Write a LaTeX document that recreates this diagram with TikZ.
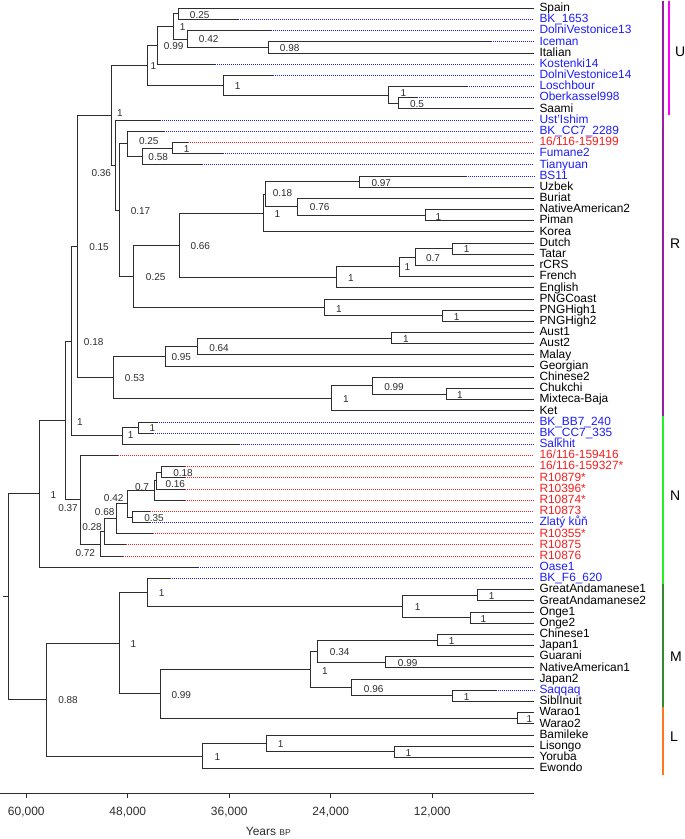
\documentclass[tikz,border=0pt]{standalone}
\usepackage{fontspec}
\setmainfont{Liberation Sans}
\definecolor{brcol}{RGB}{45,45,45}
\definecolor{bluetxt}{RGB}{30,30,250}
\definecolor{redtxt}{RGB}{250,30,30}
\definecolor{Ucol}{RGB}{255,0,255}
\definecolor{Rcol}{RGB}{150,30,160}
\definecolor{Ncol}{RGB}{40,240,40}
\definecolor{Mcol}{RGB}{50,140,50}
\definecolor{Lcol}{RGB}{255,120,30}
\newcommand{\inode}[6]{\coordinate (#1) at (#2,#3); \draw[branch] (#4) |- (#1); \node[suplab] (#1-lab) at (#5) {#6};}
\newcommand{\mleaf}[4]{\coordinate (#1) at (533.8,#2); \draw[branch] (#3) |- (#1); \node[leaflab] (#1-lab) at (#1) {#4};}
\newcommand{\aleaf}[6]{\coordinate (#1s) at (#4,#2); \coordinate (#1) at (533.8,#2); \draw[branch] (#3) |- (#1s); \draw[dotline,draw=#5] (#1s) -- (#1); \node[leaflab,text=#5] (#1-lab) at (#1) {#6};}
\begin{document}
\begin{tikzpicture}[x=1pt,y=-1pt,
  branch/.style={draw=brcol,line width=0.9pt},
  dotline/.style={line width=1pt,dash pattern=on 1pt off 1pt},
  leaflab/.style={anchor=mid west,inner sep=0pt,xshift=5.5pt,yshift=-0.6pt,font=\fontsize{11.9}{12}\selectfont},
  suplab/.style={inner sep=0pt,font=\fontsize{10}{10}\selectfont,text=brcol},
  axlab/.style={inner sep=0pt,font=\fontsize{12}{12}\selectfont,text=brcol},
  cladelab/.style={anchor=west,inner sep=0pt,font=\fontsize{14}{14}\selectfont},
  cladebar/.style={line width=2pt}]
\useasboundingbox (0,0) rectangle (685,839);
% root
\coordinate (root) at (8.3,596.7);
\coordinate (rootstub) at (3.3,596.7);
\draw[branch] (rootstub) -- (root);
% internal nodes
\inode{AA}{39}{493.85}{root}{53.3,495}{1}
\inode{Y}{65.7}{420.4}{AA}{80,421.7}{1}
\inode{W}{71.7}{341.05}{Y}{93.7,341.7}{0.18}
\inode{L}{77.3}{246.2}{W}{99,246.7}{0.15}
\inode{I}{111}{115.2}{L}{120,113.3}{1}
\inode{E}{147}{65.3}{I}{153.3,66}{1}
\inode{D}{157.3}{45.35}{E}{173.7,45.7}{0.99}
\inode{C}{173.3}{26.5}{D}{182.7,27.3}{1}
\inode{A}{178.3}{13.9}{C}{199.7,15}{0.25}
\inode{B}{187.3}{39.05}{C}{208.7,39.3}{0.42}
\inode{IcIt}{268.3}{47.4}{B}{289.7,48.3}{0.98}
\inode{F}{223.3}{85.2}{E}{237.7,86}{1}
\inode{G}{388.3}{94.95}{F}{403.3,93.3}{1}
\inode{H}{398.3}{103.3}{G}{417,104.3}{0.5}
\inode{J}{115.7}{165.1}{I}{101.3,173.3}{0.36}
\inode{K}{119}{210.1}{J}{140.5,210.7}{0.17}
\inode{M}{127.7}{143.9}{K}{148.8,141}{0.25}
\inode{N}{142.3}{156.4}{M}{158.2,156.7}{0.58}
\inode{O}{172.3}{148.05}{N}{186.7,149}{1}
\inode{P}{133.3}{276.3}{K}{155.7,277.3}{0.25}
\inode{Q}{179}{245.2}{P}{200.3,246}{0.66}
\inode{S}{263.3}{213.05}{Q}{277.3,214}{1}
\inode{S1}{265.7}{194.2}{S}{282.5,193.3}{0.18}
\inode{BSUz}{359.3}{181.6}{S1}{381.3,182.7}{0.97}
\inode{S2}{297.7}{206.75}{S1}{319.7,207.5}{0.76}
\inode{NAP}{425}{215.1}{S2}{438.3,216.7}{1}
\inode{Eu}{336.7}{277.3}{Q}{351,277.7}{1}
\inode{Eu1}{399.3}{266.8}{Eu}{407.3,267.3}{1}
\inode{Eu2}{415}{257.1}{Eu1}{433,258.3}{0.7}
\inode{Eu3}{452.7}{248.7}{Eu2}{466.7,249.3}{1}
\inode{PNG}{324}{307.4}{P}{339,309}{1}
\inode{PNGH}{442.7}{315.8}{PNG}{456.7,316.7}{1}
\inode{T}{113.3}{377.25}{L}{134.7,378.3}{0.53}
\inode{U1}{165.7}{356.3}{T}{181.3,357.3}{0.95}
\inode{U2}{197.7}{346.5}{U1}{219,347.7}{0.64}
\inode{Aus}{391.7}{338.1}{U2}{406,339}{1}
\inode{V}{331.7}{398.2}{T}{346,399}{1}
\inode{V1}{372.7}{385.6}{V}{394,386.7}{0.99}
\inode{CM}{446}{394}{V1}{460,395}{1}
\inode{X}{122.7}{435.9}{W}{130.7,435}{1}
\inode{BBCC}{138.3}{427.55}{X}{152.3,428.3}{1}
\inode{Z}{80.7}{499.7}{Y}{68,508.3}{0.37}
\inode{Z1}{100}{543.95}{Z}{85.3,553.3}{0.72}
\inode{Z2}{104}{531.8}{Z1}{92,526.7}{0.28}
\inode{Z3}{116.7}{518.75}{Z2}{104.7,512.3}{0.68}
\inode{Z4}{127.7}{503.7}{Z3}{113.7,498.3}{0.42}
\inode{Z5}{154}{490.4}{Z4}{142,486.7}{0.7}
\inode{Z6}{156.7}{480.65}{Z5}{175.3,484.3}{0.16}
\inode{Z7}{161}{472.3}{Z6}{183,473.3}{0.18}
\inode{Z8}{132.7}{517}{Z4}{154,518.3}{0.35}
\inode{BB}{46}{699.5}{root}{68,700}{0.88}
\inode{CC}{119}{643.1}{BB}{133.3,644}{1}
\inode{DD}{147.3}{592.45}{CC}{161.7,593.3}{1}
\inode{EE}{402.7}{606.4}{DD}{417.7,606.7}{1}
\inode{GA}{477.3}{595.25}{EE}{491.7,596}{1}
\inode{On}{470}{617.6}{EE}{483.3,619}{1}
\inode{FF}{160.3}{693.75}{CC}{181.3,695}{0.99}
\inode{GG}{310.7}{669.3}{FF}{325,670.7}{1}
\inode{HH}{317.7}{651.15}{GG}{339.7,652.3}{0.34}
\inode{CJ}{437.3}{640}{HH}{451.7,641}{1}
\inode{GN}{385.7}{662.3}{HH}{407.7,663.3}{0.99}
\inode{II}{351.7}{687.5}{GG}{373.7,689}{0.96}
\inode{SS}{452.7}{695.9}{II}{466.7,697.3}{1}
\inode{WW}{517.7}{718.2}{FF}{529.3,719}{1}
\inode{JJ}{202.7}{755.95}{BB}{217.3,756.7}{1}
\inode{KK}{266}{743.4}{JJ}{280.7,744.3}{1}
\inode{LY}{394}{751.8}{KK}{408.3,753.3}{1}
% leaves
\mleaf{l0}{8.3}{A}{Spain}
\aleaf{l1}{19.5}{A}{238.3}{bluetxt}{BK\_1653}
\aleaf{l2}{30.7}{B}{270.7}{bluetxt}{DolniVestonice13}
\aleaf{l3}{41.8}{IcIt}{490.7}{bluetxt}{Iceman}
\mleaf{l4}{53.0}{IcIt}{Italian}
\aleaf{l5}{64.2}{D}{215}{bluetxt}{Kostenki14}
\aleaf{l6}{75.4}{F}{272.7}{bluetxt}{DolniVestonice14}
\aleaf{l7}{86.6}{G}{466.7}{bluetxt}{Loschbour}
\aleaf{l8}{97.7}{H}{417}{bluetxt}{Oberkassel998}
\mleaf{l9}{108.9}{H}{Saami}
\aleaf{l10}{120.1}{J}{160}{bluetxt}{Ust’Ishim}
\aleaf{l11}{131.3}{M}{164.3}{bluetxt}{BK\_CC7\_2289}
\aleaf{l12}{142.5}{O}{188.3}{redtxt}{16/116-159199}
\aleaf{l13}{153.6}{O}{223.3}{bluetxt}{Fumane2}
\aleaf{l14}{164.8}{N}{202.3}{bluetxt}{Tianyuan}
\aleaf{l15}{176.0}{BSUz}{465.7}{bluetxt}{BS11}
\mleaf{l16}{187.2}{BSUz}{Uzbek}
\mleaf{l17}{198.4}{S2}{Buriat}
\mleaf{l18}{209.5}{NAP}{NativeAmerican2}
\mleaf{l19}{220.7}{NAP}{Piman}
\mleaf{l20}{231.9}{S}{Korea}
\mleaf{l21}{243.1}{Eu3}{Dutch}
\mleaf{l22}{254.3}{Eu3}{Tatar}
\mleaf{l23}{265.4}{Eu2}{rCRS}
\mleaf{l24}{276.6}{Eu1}{French}
\mleaf{l25}{287.8}{Eu}{English}
\mleaf{l26}{299.0}{PNG}{PNGCoast}
\mleaf{l27}{310.2}{PNGH}{PNGHigh1}
\mleaf{l28}{321.3}{PNGH}{PNGHigh2}
\mleaf{l29}{332.5}{Aus}{Aust1}
\mleaf{l30}{343.7}{Aus}{Aust2}
\mleaf{l31}{354.9}{U2}{Malay}
\mleaf{l32}{366.1}{U1}{Georgian}
\mleaf{l33}{377.2}{V1}{Chinese2}
\mleaf{l34}{388.4}{CM}{Chukchi}
\mleaf{l35}{399.6}{CM}{Mixteca-Baja}
\mleaf{l36}{410.8}{V}{Ket}
\aleaf{l37}{422.0}{BBCC}{156.7}{bluetxt}{BK\_BB7\_240}
\aleaf{l38}{433.1}{BBCC}{153.3}{bluetxt}{BK\_CC7\_335}
\aleaf{l39}{444.3}{X}{239.3}{bluetxt}{Salkhit}
\aleaf{l40}{455.5}{Z}{118.3}{redtxt}{16/116-159416}
\aleaf{l41}{466.7}{Z7}{185}{redtxt}{16/116-159327*}
\aleaf{l42}{477.9}{Z7}{185}{redtxt}{R10879*}
\aleaf{l43}{489.0}{Z6}{185}{redtxt}{R10396*}
\aleaf{l44}{500.2}{Z5}{185}{redtxt}{R10874*}
\aleaf{l45}{511.4}{Z8}{150}{redtxt}{R10873}
\aleaf{l46}{522.6}{Z8}{150}{bluetxt}{Zlatý kůň}
\aleaf{l47}{533.8}{Z3}{152.7}{redtxt}{R10355*}
\aleaf{l48}{544.9}{Z2}{126}{redtxt}{R10875}
\aleaf{l49}{556.1}{Z1}{123.3}{redtxt}{R10876}
\aleaf{l50}{567.3}{AA}{198.3}{bluetxt}{Oase1}
\aleaf{l51}{578.5}{DD}{170}{bluetxt}{BK\_F6\_620}
\mleaf{l52}{589.7}{GA}{GreatAndamanese1}
\mleaf{l53}{600.8}{GA}{GreatAndamanese2}
\mleaf{l54}{612.0}{On}{Onge1}
\mleaf{l55}{623.2}{On}{Onge2}
\mleaf{l56}{634.4}{CJ}{Chinese1}
\mleaf{l57}{645.6}{CJ}{Japan1}
\mleaf{l58}{656.7}{GN}{Guarani}
\mleaf{l59}{667.9}{GN}{NativeAmerican1}
\mleaf{l60}{679.1}{II}{Japan2}
\aleaf{l61}{690.3}{SS}{495.7}{bluetxt}{Saqqaq}
\mleaf{l62}{701.5}{SS}{SiblInuit}
\mleaf{l63}{712.6}{WW}{Warao1}
\mleaf{l64}{723.8}{WW}{Warao2}
\mleaf{l65}{735.0}{KK}{Bamileke}
\mleaf{l66}{746.2}{LY}{Lisongo}
\mleaf{l67}{757.4}{LY}{Yoruba}
\mleaf{l68}{768.5}{JJ}{Ewondo}
% axis
\coordinate (ax0) at (0,793);
\coordinate (ax1) at (533.8,793);
\draw[branch] (ax0) -- (ax1);
\coordinate (t1a) at (26.3,793); \coordinate (t1b) at (26.3,797.5);
\coordinate (t2a) at (127.8,793); \coordinate (t2b) at (127.8,797.5);
\coordinate (t3a) at (229.3,793); \coordinate (t3b) at (229.3,797.5);
\coordinate (t4a) at (330.8,793); \coordinate (t4b) at (330.8,797.5);
\coordinate (t5a) at (432.3,793); \coordinate (t5b) at (432.3,797.5);
\draw[branch] (t1a) -- (t1b); \draw[branch] (t2a) -- (t2b); \draw[branch] (t3a) -- (t3b);
\draw[branch] (t4a) -- (t4b); \draw[branch] (t5a) -- (t5b);
\node[axlab] (tl1) at (26.3,812) {60,000};
\node[axlab] (tl2) at (127.8,812) {48,000};
\node[axlab] (tl3) at (229.3,812) {36,000};
\node[axlab] (tl4) at (330.8,812) {24,000};
\node[axlab] (tl5) at (432.3,812) {12,000};
\node[axlab] (years) at (268.3,831) {Years {\fontsize{8.5}{8.5}\selectfont BP}};
% clade bars
\coordinate (ru) at (663.3,1); \coordinate (rl) at (663.3,416.4);
\coordinate (nl) at (663.3,584.1); \coordinate (ml) at (663.3,707.05);
\coordinate (ll) at (663.3,775);
\coordinate (uu) at (669.3,1); \coordinate (ul) at (669.3,114.5);
\draw[cladebar,Rcol] (ru) -- (rl);
\draw[cladebar,Ncol] (rl) -- (nl);
\draw[cladebar,Mcol] (nl) -- (ml);
\draw[cladebar,Lcol] (ml) -- (ll);
\draw[cladebar,Ucol] (uu) -- (ul);
\node[cladelab] (labU) at (675,51.7) {U};
\node[cladelab] (labR) at (670,244) {R};
\node[cladelab] (labN) at (670,496) {N};
\node[cladelab] (labM) at (670,656.7) {M};
\node[cladelab] (labL) at (670,736.7) {L};
\end{tikzpicture}
\end{document}
